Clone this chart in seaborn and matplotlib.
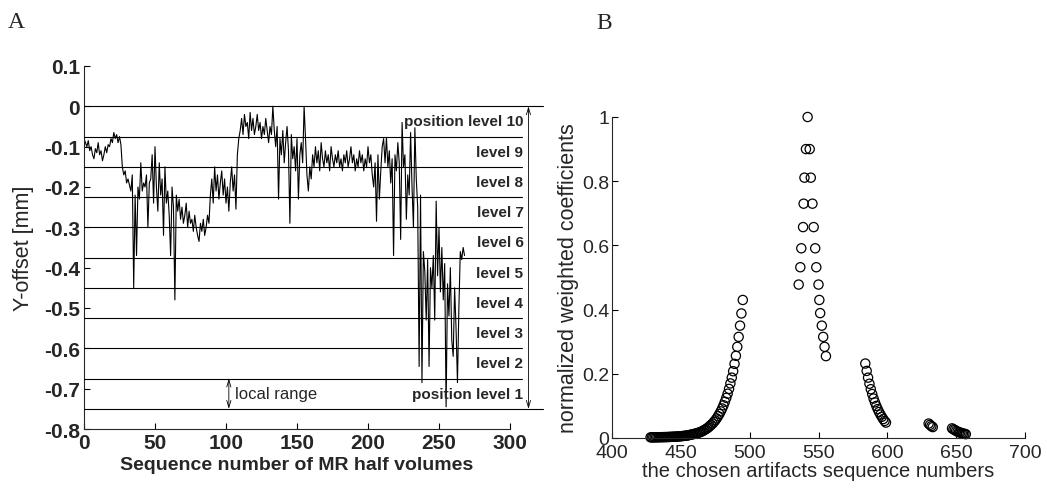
import numpy as np
import pandas as pd
import matplotlib
matplotlib.use("Agg")
import matplotlib.pyplot as plt
import seaborn as sns

# ---------------- data: panel A ----------------
y_offset = [
    -0.08, -0.09, -0.10, -0.085, -0.11, -0.10, -0.12, -0.13, -0.105, -0.115, -0.09, -0.12, -0.11, -0.135, -0.12, -0.10, -0.115, -0.095,
    -0.10, -0.08, -0.09, -0.065, -0.08, -0.07, -0.09, -0.075, -0.095,
    -0.15, -0.17, -0.16, -0.19, -0.18, -0.195, -0.21, -0.17,
    -0.45, -0.22, -0.37, -0.20, -0.23,
    -0.14, -0.21, -0.19, -0.20, -0.17, -0.30, -0.19, -0.18,
    -0.12, -0.24, -0.10, -0.20, -0.26, -0.14, -0.22, -0.18, -0.32, -0.15, -0.24, -0.21, -0.27, -0.37, -0.20, -0.25, -0.48, -0.22,
    -0.26, -0.23, -0.28, -0.25, -0.29, -0.27, -0.24, -0.30, -0.26, -0.29, -0.28, -0.31,
    -0.27, -0.30, -0.32, -0.335, -0.29, -0.31, -0.28, -0.32, -0.30, -0.27, -0.29,
    -0.22, -0.18, -0.24, -0.15, -0.21, -0.17, -0.23, -0.19, -0.16, -0.22, -0.18, -0.24, -0.20, -0.26, -0.19, -0.15, -0.21, -0.17, -0.255, -0.12,
    -0.08, -0.06, -0.03, -0.07, -0.02, -0.05, -0.04, -0.08, -0.015, -0.06, -0.03, -0.07, -0.05, -0.02, -0.06, -0.04, -0.08, -0.05, -0.07, -0.03, -0.06, -0.09, -0.05, -0.07,
    0.0, -0.06, -0.10, -0.05, -0.23, -0.08, -0.12, -0.06, -0.14, -0.09, -0.05, -0.11, -0.29, -0.07, -0.13, -0.10, -0.16, -0.08, -0.23, -0.12,
    -0.09, -0.14, 0.0, -0.08, -0.17, -0.21, -0.15, -0.18,
    -0.12, -0.15, -0.10, -0.14, -0.11, -0.16, -0.09, -0.13, -0.15, -0.11, -0.14, -0.12, -0.16, -0.10, -0.13, -0.15, -0.12, -0.14, -0.11, -0.15, -0.13, -0.16,
    -0.12, -0.14, -0.11, -0.15, -0.13, -0.10, -0.14, -0.12, -0.16, -0.13, -0.15, -0.11, -0.14, -0.12, -0.16, -0.13, -0.15, -0.10, -0.14, -0.12, -0.17,
    -0.20, -0.14, -0.285, -0.12, -0.23, -0.16, -0.10, -0.08, -0.14, -0.077, -0.15, -0.11, -0.19, -0.13, -0.37, -0.12, -0.16, -0.09, -0.14, -0.33, -0.04, -0.15, -0.12, -0.28, -0.17, -0.22,
    -0.065, -0.20, -0.30, -0.053, -0.18, -0.25, -0.645, -0.22, -0.685,
    -0.36, -0.41, -0.53, -0.38, -0.645, -0.40, -0.45, -0.37, -0.53,
    -0.235, -0.42, -0.30, -0.46, -0.35, -0.48, -0.39, -0.745,
    -0.44, -0.52, -0.40, -0.58, -0.62, -0.45, -0.55, -0.685, -0.50,
    -0.36, -0.38, -0.35, -0.37,
]
seq_number = list(range(len(y_offset)))

level_bounds = [0.0, -0.075, -0.15, -0.225, -0.30, -0.375, -0.45, -0.525, -0.60, -0.675, -0.75]
level_labels = ["position level 10", "level 9", "level 8", "level 7", "level 6",
                "level 5", "level 4", "level 3", "level 2", "position level 1"]
a_xticks = [0, 50, 100, 150, 200, 250, 300]
a_yticks = [0.1, 0, -0.1, -0.2, -0.3, -0.4, -0.5, -0.6, -0.7, -0.8]
a_yticklabels = ["0.1", "0", "-0.1", "-0.2", "-0.3", "-0.4", "-0.5", "-0.6", "-0.7", "-0.8"]

# ---------------- data: panel B ----------------
g1_x = list(range(495, 427, -1))
g1_y = [0.430, 0.388, 0.350, 0.315, 0.284, 0.256, 0.231, 0.208, 0.188, 0.170,
        0.153, 0.138, 0.125, 0.113, 0.102, 0.092, 0.083, 0.075, 0.068, 0.061,
        0.055, 0.050, 0.045, 0.041, 0.037, 0.033, 0.030, 0.027, 0.025, 0.022,
        0.020, 0.018, 0.017, 0.015, 0.014, 0.013, 0.012, 0.011, 0.010, 0.009,
        0.008, 0.0075, 0.007, 0.0065, 0.006, 0.0055, 0.005, 0.0048, 0.0045, 0.0042,
        0.004, 0.0038, 0.0036, 0.0034, 0.0032, 0.003, 0.0029, 0.0028, 0.0027, 0.0026,
        0.0025, 0.0024, 0.0023, 0.0022, 0.0021, 0.002, 0.002, 0.002]
g2_x = [535.6, 536.8, 537.5, 538.8, 539.2, 539.8, 540.9, 542.1, 543.6, 544.4, 545.6,
        546.5, 547.6, 548.4, 550.0, 550.6, 551.2, 552.4, 553.4, 554.4, 555.4]
g2_y = [0.478, 0.532, 0.591, 0.657, 0.730, 0.811, 0.900, 1.000, 0.900, 0.811, 0.730,
        0.657, 0.591, 0.532, 0.478, 0.430, 0.389, 0.350, 0.315, 0.284, 0.255]
g3_x = [584, 585, 586, 587, 588, 589, 590, 591, 592, 593, 594, 595, 596, 597, 598, 599]
g3_y = [0.232, 0.209, 0.188, 0.169, 0.152, 0.137, 0.123, 0.111, 0.100, 0.090,
        0.081, 0.073, 0.066, 0.059, 0.053, 0.048]
g4_x = [630, 631, 632, 633]
g4_y = [0.045, 0.041, 0.037, 0.034]
g5_x = [647, 648, 649, 650, 651, 652, 653, 654, 655, 656, 657]
g5_y = [0.030, 0.027, 0.025, 0.022, 0.020, 0.018, 0.017, 0.015, 0.014, 0.013, 0.012]
b_xticks = [400, 450, 500, 550, 600, 650, 700]
b_yticks = [0, 0.2, 0.4, 0.6, 0.8, 1]
b_yticklabels = ["0", "0.2", "0.4", "0.6", "0.8", "1"]

# ---------------- style ----------------
sns.set_style("ticks")
plt.rcParams["font.family"] = ["Liberation Sans", "DejaVu Sans"]
plt.rcParams["xtick.direction"] = "in"
plt.rcParams["ytick.direction"] = "in"

W, H = 1047, 489
fig = plt.figure(figsize=(W / 100, H / 100), dpi=100)
fig.patch.set_facecolor("white")

# ---------------- panel A ----------------
axA = fig.add_axes([84 / W, (H - 430) / H, 426 / W, 363 / H])
dfA = pd.DataFrame({"seq": seq_number, "off": y_offset})
sns.lineplot(data=dfA, x="seq", y="off", ax=axA, color="black", lw=0.8,
             estimator=None, sort=False)
axA.set_xlim(0, 300)
axA.set_ylim(-0.8, 0.1)
axA.set_xticks(a_xticks)
axA.set_xticklabels([str(t) for t in a_xticks], fontsize=15, fontweight="bold")
axA.set_yticks(a_yticks)
axA.set_yticklabels(a_yticklabels, fontsize=15, fontweight="bold")
axA.tick_params(length=4, width=0.8, color="black", pad=3)
for s in ["top", "right"]:
    axA.spines[s].set_visible(False)
for s in ["left", "bottom"]:
    axA.spines[s].set_linewidth(0.8)
axA.set_xlabel("Sequence number of MR half volumes", fontsize=14, fontweight="bold", labelpad=3)
axA.set_ylabel("Y-offset [mm]", fontsize=15.5, labelpad=7)

for i, yb in enumerate(level_bounds):
    xe = 323 if i in (0, len(level_bounds) - 1) else 308.5
    axA.plot([0, xe], [yb, yb], color="black", lw=0.8, clip_on=False, zorder=3)
for i, lab in enumerate(level_labels):
    yc = (level_bounds[i] + level_bounds[i + 1]) / 2
    axA.text(309.5, yc, lab, ha="right", va="center", fontsize=11, fontweight="bold",
             clip_on=False, zorder=4)
axA.annotate("", xy=(313, level_bounds[-1]), xytext=(313, level_bounds[0]),
             arrowprops=dict(arrowstyle="<->,head_length=0.5,head_width=0.15", lw=0.6,
                             color="black", shrinkA=0, shrinkB=0),
             annotation_clip=False)
axA.annotate("", xy=(102, level_bounds[-1]), xytext=(102, level_bounds[-2]),
             arrowprops=dict(arrowstyle="<->,head_length=0.5,head_width=0.15", lw=0.6,
                             color="black", shrinkA=0, shrinkB=0),
             annotation_clip=False)
axA.text(106.5, (level_bounds[-1] + level_bounds[-2]) / 2, "local range", ha="left",
         va="center", fontsize=12)

# ---------------- panel B ----------------
axB = fig.add_axes([612 / W, (H - 439) / H, 413 / W, 321 / H])
dfB = pd.DataFrame({
    "x": g1_x + g2_x + g3_x + g4_x + g5_x,
    "y": g1_y + g2_y + g3_y + g4_y + g5_y,
})
sns.scatterplot(data=dfB, x="x", y="y", ax=axB, marker="o", s=44,
                facecolor="none", edgecolor="black", linewidth=0.9, clip_on=False)
axB.set_xlim(400, 700)
axB.set_ylim(0, 1)
axB.set_xticks(b_xticks)
axB.set_xticklabels([str(t) for t in b_xticks], fontsize=14)
axB.set_yticks(b_yticks)
axB.set_yticklabels(b_yticklabels, fontsize=14)
axB.tick_params(axis="x", length=4, width=0.8, color="black", pad=4)
axB.tick_params(axis="y", length=4, width=0.8, color="black", pad=2)
for s in ["top", "right"]:
    axB.spines[s].set_visible(False)
for s in ["left", "bottom"]:
    axB.spines[s].set_linewidth(0.8)
axB.set_xlabel("the chosen artifacts sequence numbers", fontsize=14.5, labelpad=0)
axB.set_ylabel("normalized weighted coefficients", fontsize=15.5, labelpad=2)

fig.text(8 / W, 1 - 12 / H, "A", ha="left", va="top", fontsize=17, family="Liberation Serif")
fig.text(596 / W, 1 - 13 / H, "B", ha="left", va="top", fontsize=17, family="Liberation Serif")

fig.savefig("out.png", dpi=100, facecolor="white")
